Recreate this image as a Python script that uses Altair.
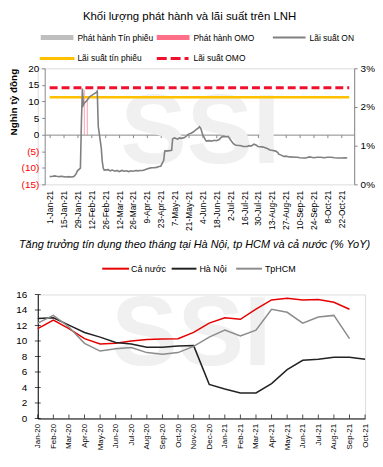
import altair as alt
import pandas as pd
from datetime import datetime

FONT = "Liberation Sans"

# ---------------- top chart data ----------------
top_title = "Khối lượng phát hành và lãi suất trên LNH"
top_legend = ["Phát hành Tín phiếu", "Phát hành OMO", "Lãi suất ON",
              "Lãi suất tín phiếu", "Lãi suất OMO"]
y_left_title = "Nghìn tỷ đồng"
top_ticks = ["1-Jan-21", "15-Jan-21", "29-Jan-21", "12-Feb-21", "26-Feb-21",
             "12-Mar-21", "26-Mar-21", "9-Apr-21", "23-Apr-21", "7-May-21",
             "21-May-21", "4-Jun-21", "18-Jun-21", "2-Jul-21", "16-Jul-21",
             "30-Jul-21", "13-Aug-21", "27-Aug-21", "10-Sep-21", "24-Sep-21",
             "8-Oct-21", "22-Oct-21"]
left_ticks = [-15, -10, -5, 0, 5, 10, 15, 20]
right_ticks = [0, 1, 2, 3]
period = ["2021-01-01", "2021-10-30"]

on_dates = ["2021-01-01", "2021-01-04", "2021-01-06", "2021-01-08", "2021-01-11",
            "2021-01-13", "2021-01-15", "2021-01-18", "2021-01-20", "2021-01-22",
            "2021-01-25", "2021-01-26", "2021-01-27", "2021-01-28", "2021-01-29",
            "2021-02-01", "2021-02-02", "2021-02-03", "2021-02-04", "2021-02-05",
            "2021-02-08", "2021-02-09", "2021-02-10", "2021-02-17", "2021-02-18",
            "2021-02-19", "2021-02-22", "2021-02-23", "2021-02-24", "2021-02-25",
            "2021-03-01", "2021-03-03", "2021-03-05", "2021-03-08", "2021-03-10",
            "2021-03-12", "2021-03-15", "2021-03-17", "2021-03-19", "2021-03-22",
            "2021-03-24", "2021-03-26", "2021-03-29", "2021-03-31", "2021-04-02",
            "2021-04-05", "2021-04-07", "2021-04-09", "2021-04-12", "2021-04-14",
            "2021-04-16", "2021-04-19", "2021-04-21", "2021-04-23", "2021-04-26",
            "2021-04-27", "2021-04-28", "2021-04-29", "2021-05-04", "2021-05-05",
            "2021-05-07", "2021-05-10", "2021-05-12", "2021-05-14", "2021-05-17",
            "2021-05-19", "2021-05-21", "2021-05-24", "2021-05-26", "2021-05-28",
            "2021-05-31", "2021-06-01", "2021-06-02", "2021-06-03", "2021-06-04",
            "2021-06-07", "2021-06-08", "2021-06-10", "2021-06-14", "2021-06-16",
            "2021-06-18", "2021-06-21", "2021-06-23", "2021-06-25", "2021-06-28",
            "2021-06-30", "2021-07-01", "2021-07-05", "2021-07-07", "2021-07-09",
            "2021-07-13", "2021-07-15", "2021-07-19", "2021-07-21", "2021-07-23",
            "2021-07-26", "2021-07-28", "2021-07-30", "2021-08-03", "2021-08-05",
            "2021-08-09", "2021-08-11", "2021-08-13", "2021-08-17", "2021-08-19",
            "2021-08-20", "2021-08-23", "2021-08-25", "2021-08-27", "2021-08-31",
            "2021-09-06", "2021-09-08", "2021-09-10", "2021-09-14", "2021-09-16",
            "2021-09-20", "2021-09-22", "2021-09-24", "2021-09-28", "2021-10-01",
            "2021-10-05", "2021-10-08", "2021-10-12", "2021-10-15", "2021-10-19",
            "2021-10-22", "2021-10-26", "2021-10-28"]
on_values = [0.20, 0.21, 0.22, 0.21, 0.20,
             0.21, 0.20, 0.19, 0.20, 0.19,
             0.20, 0.22, 0.25, 0.29, 0.35,
             0.42, 1.60, 2.48, 2.05, 2.10,
             2.18, 2.22, 2.26, 2.38, 2.41,
             1.50, 0.95, 0.60, 0.42, 0.37,
             0.38, 0.35, 0.37, 0.34, 0.36,
             0.33, 0.36, 0.34, 0.35, 0.33,
             0.35, 0.34, 0.36, 0.35, 0.36,
             0.36, 0.38, 0.40, 0.42, 0.43,
             0.43, 0.44, 0.46, 0.47, 0.62,
             0.86, 0.87, 0.86, 0.88, 1.18,
             1.20, 1.17, 1.20, 1.19, 1.21,
             1.25, 1.30, 1.33, 1.36, 1.40,
             1.46, 1.49, 1.46, 1.40, 1.30,
             1.15, 1.12, 1.13, 1.12, 1.14,
             1.13, 1.16, 1.22, 1.24, 1.23,
             1.24, 1.20, 1.06, 1.02, 1.01,
             1.00, 0.98, 0.98, 1.00, 0.99,
             1.04, 1.02, 0.98, 0.97, 0.96,
             0.92, 0.89, 0.88, 0.86, 0.82,
             0.78, 0.75, 0.72, 0.73, 0.71,
             0.70, 0.70, 0.69, 0.68, 0.68,
             0.71, 0.70, 0.69, 0.70, 0.70,
             0.69, 0.70, 0.70, 0.69, 0.68,
             0.68, 0.69, 0.68]
omo_dates = ["2021-02-05", "2021-02-08"]
omo_values = [13.5, 11.0]
tinphieu_dates = []
tinphieu_values = []
rate_tinphieu = 2.25
rate_omo = 2.5

# ---------------- bottom chart data ----------------
bottom_title = "Tăng trưởng tín dụng theo tháng tại Hà Nội, tp HCM và cả nước (% YoY)"
months = ["Jan-20", "Feb-20", "Mar-20", "Apr-20", "May-20", "Jun-20", "Jul-20",
          "Aug-20", "Sep-20", "Oct-20", "Nov-20", "Dec-20", "Jan-21", "Feb-21",
          "Mar-21", "Apr-21", "May-21", "Jun-21", "Jul-21", "Aug-21", "Sep-21",
          "Oct-21"]
series_names = ["Cả nước", "Hà Nội", "TpHCM"]
ca_nuoc = [11.6, 12.7, 11.6, 10.3, 9.6, 9.7, 10.0, 10.2, 10.25, 10.3, 11.1,
           12.3, 13.0, 12.8, 14.1, 15.3, 15.5, 15.3, 15.35, 15.0, 14.1, None]
ha_noi = [12.9, 13.0, 12.05, 11.1, 10.5, 9.8, 9.6, 9.2, 9.2, 9.35, 9.4,
          4.4, 3.8, 3.3, 3.3, 4.5, 6.3, 7.5, 7.65, 7.9, 7.9, 7.65]
tphcm = [12.3, 13.3, 11.8, 9.7, 8.7, 9.0, 9.15, 8.5, 8.3, 8.5, 9.3,
         10.5, 11.4, 10.65, 11.4, 14.1, 13.7, 12.3, 13.1, 13.3, 10.3, None]
bottom_y_ticks = [0, 2, 4, 6, 8, 10, 12, 14, 16]
watermark = "SSI"

# ---------------- styles ----------------
C_GRAY_BAR = "#bfbfbf"
C_OMO_BAR = "#ff7088"
C_ON = "#808080"
C_TP = "#ffc000"
C_OMO = "#f0102e"
C_SERIES = ["#e60000", "#222222", "#8c8c8c"]
C_WM = "#f0f0f0"


def dt(s, fmt="%Y-%m-%d"):
    d = datetime.strptime(s, fmt)
    return alt.DateTime(year=d.year, month=d.month, date=d.day)


def one(**kw):
    return alt.Data(values=[kw])


def leg_rule(x1, x2, y, color, width, dash=None):
    kw = dict(color=color, strokeWidth=width, strokeCap="butt")
    if dash:
        kw["strokeDash"] = dash
    return alt.Chart(one(k=0)).mark_rule(**kw).encode(
        x=alt.value(x1), x2=alt.value(x2), y=alt.value(y))


def txt(x, y, t, size, align="left", italic=False, bold=False, color="#000"):
    kw = dict(align=align, baseline="alphabetic", fontSize=size, font=FONT,
              color=color)
    if italic:
        kw["fontStyle"] = "italic"
    if bold:
        kw["fontWeight"] = "bold"
    return alt.Chart(one(t=t)).mark_text(**kw).encode(
        x=alt.value(x), y=alt.value(y), text="t:N")


def wm(x, y):
    return alt.Chart(one(t=watermark)).mark_text(
        fontSize=100, fontWeight="bold", font=FONT, color=C_WM,
        baseline="middle", align="center").encode(
        x=alt.value(x), y=alt.value(y), text="t:N")


# ---------------- top chart ----------------
W1, H1 = 319, 117
LEFT_SHIFT = 7
zero_from_bottom = H1 * 15 / 35.0

xscale = alt.Scale(domain=[dt(period[0]), dt(period[1])], range=[LEFT_SHIFT, W1])
xaxis = alt.Axis(title=None, values=[dt(t, "%d-%b-%y") for t in top_ticks],
                 format="%-d-%b-%y", labelAngle=-90, labelPadding=53,
                 offset=-zero_from_bottom, tickSize=3, tickColor="#888",
                 domainColor="#888", labelFontSize=8.5, labelOverlap=False,
                 labelFlush=False, grid=False, labelFont=FONT)
ylscale = alt.Scale(domain=[-15, 20], nice=False, zero=False)
ylaxis = alt.Axis(title=y_left_title, values=left_ticks,
                  labelExpr="datum.value < 0 ? '(' + abs(datum.value) + ')' : datum.label",
                  labelColor=alt.condition("datum.value < 0", alt.value("#ff0000"), alt.value("#000000")),
                  offset=-LEFT_SHIFT, tickSize=3, tickColor="#888", domainColor="#888",
                  grid=False, titleFontWeight="bold", titleFontSize=10, titleAnchor="end",
                  titlePadding=4, minExtent=22, maxExtent=22, labelFontSize=10,
                  labelPadding=3, labelFlush=False, labelFont=FONT, titleFont=FONT)
yrscale = alt.Scale(domain=[0, 3], nice=False, zero=False)
yraxis = alt.Axis(title=None, orient="right", values=right_ticks,
                  labelExpr="datum.value + '%'", tickSize=3, tickColor="#888",
                  domainColor="#888", grid=False, labelFontSize=10, labelPadding=3,
                  labelFlush=False, labelFont=FONT)

on_df = pd.DataFrame({"date": pd.to_datetime(on_dates), "v": on_values})
omo_df = pd.DataFrame({"date": pd.to_datetime(omo_dates), "v": omo_values})
rate_df = pd.DataFrame({"x0": pd.to_datetime([period[0]] * 2),
                        "x1": pd.to_datetime([period[1]] * 2),
                        "r": [rate_tinphieu, rate_omo],
                        "k": ["tp", "omo"]})

bars = alt.Chart(omo_df).mark_bar(size=1.2, color=C_OMO_BAR, opacity=0.55).encode(
    x=alt.X("date:T", scale=xscale, axis=xaxis),
    y=alt.Y("v:Q", scale=ylscale, axis=ylaxis),
    y2=alt.datum(0))

left_layers = [wm(200 - 36, 135 - 70), bars]
if tinphieu_dates:
    tp_df = pd.DataFrame({"date": pd.to_datetime(tinphieu_dates), "v": tinphieu_values})
    left_layers.append(alt.Chart(tp_df).mark_bar(size=1.2, color=C_GRAY_BAR).encode(
        x=alt.X("date:T", scale=xscale, axis=xaxis),
        y=alt.Y("v:Q", scale=ylscale, axis=ylaxis), y2=alt.datum(0)))

# legend (top)
r1, r2 = -31, -10
LF = 8.5
left_layers += [
    txt(153, -49, top_title, 11.5, align="center"),
    leg_rule(3, 36, r1, C_GRAY_BAR, 5), txt(40, r1 + 3, top_legend[0], LF),
    leg_rule(120, 153, r1, C_OMO_BAR, 5), txt(157, r1 + 3, top_legend[1], LF),
    leg_rule(237, 270, r1, C_ON, 2), txt(274, r1 + 3, top_legend[2], LF),
    leg_rule(2, 37, r2, C_TP, 3), txt(40, r2 + 3, top_legend[3], LF),
    leg_rule(120, 152, r2, C_OMO, 3, [10, 4]), txt(157, r2 + 3, top_legend[4], LF),
]
left = alt.layer(*left_layers)

tp_rule = alt.Chart(rate_df).transform_filter("datum.k == 'tp'").mark_rule(
    color=C_TP, strokeWidth=2.5).encode(
    x=alt.X("x0:T", scale=xscale, axis=xaxis), x2="x1:T",
    y=alt.Y("r:Q", scale=yrscale, axis=yraxis))
omo_rule = alt.Chart(rate_df).transform_filter("datum.k == 'omo'").mark_rule(
    color=C_OMO, strokeWidth=3, strokeDash=[8, 4]).encode(
    x=alt.X("x0:T", scale=xscale, axis=xaxis), x2="x1:T",
    y=alt.Y("r:Q", scale=yrscale, axis=yraxis))
on_line = alt.Chart(on_df).mark_line(color=C_ON, strokeWidth=1.6).encode(
    x=alt.X("date:T", scale=xscale, axis=xaxis),
    y=alt.Y("v:Q", scale=yrscale, axis=yraxis))
right = alt.layer(tp_rule, omo_rule, on_line)

top = alt.layer(left, right).resolve_scale(y="independent").properties(
    width=W1, height=H1)

# ---------------- bottom chart ----------------
W2, H2 = 330, 125
rows = []
for name, vals in zip(series_names, [ca_nuoc, ha_noi, tphcm]):
    for m, v in zip(months, vals):
        if v is not None:
            rows.append({"m": m, "s": name, "v": v})
bdf = pd.DataFrame(rows)

bx_scale = alt.Scale(type="point", padding=0)
bx_axis = alt.Axis(title=None, labelAngle=-90, labelPadding=5, ticks=False,
                   domainColor="#000", labelFontSize=8, labelOverlap=False,
                   labelFont=FONT, grid=False)
by_scale = alt.Scale(domain=[0, 16], nice=False)
by_axis = alt.Axis(title=None, values=bottom_y_ticks, ticks=False, domainColor="#000",
                   labelPadding=11, labelFontSize=10, grid=False, labelFont=FONT,
                   labelFlush=False)

blines = alt.Chart(bdf).mark_line(strokeWidth=1.5).encode(
    x=alt.X("m:N", sort=months, scale=bx_scale, axis=bx_axis),
    y=alt.Y("v:Q", scale=by_scale, axis=by_axis),
    color=alt.Color("s:N", scale=alt.Scale(domain=series_names, range=C_SERIES),
                    legend=None),
    detail="s:N")

xt_df = pd.DataFrame({"m": months, "z": [0] * len(months)})
xticks = alt.Chart(xt_df).mark_tick(orient="vertical", size=4, color="#000",
                                     yOffset=-2, thickness=1).encode(
    x=alt.X("m:N", sort=months, scale=bx_scale, axis=bx_axis),
    y=alt.Y("z:Q", scale=by_scale, axis=by_axis))
yt_df = pd.DataFrame({"t": bottom_y_ticks})
yticks = alt.Chart(yt_df).mark_tick(orient="horizontal", size=6, color="#000",
                                     thickness=1).encode(
    x=alt.value(0), y=alt.Y("t:Q", scale=by_scale, axis=by_axis))

lb = -26
BLF = 9
bottom = alt.layer(
    wm(191 - 36, 335 - 294),
    blines, xticks, yticks,
    txt(158, -47, bottom_title, 11, align="center", italic=True),
    leg_rule(65, 92, lb, C_SERIES[0], 2), txt(94, lb + 3, series_names[0], BLF),
    leg_rule(135, 160, lb, C_SERIES[1], 2), txt(163, lb + 3, series_names[1], BLF),
    leg_rule(200, 226, lb, C_SERIES[2], 2), txt(229, lb + 3, series_names[2], BLF),
).properties(width=W2, height=H2)

chart = alt.vconcat(top, bottom, spacing=7).properties(
    padding={"left": 0, "top": 0, "right": 0, "bottom": 0}
).configure_view(stroke=None).configure(font=FONT)

chart.save("out.html", embed_options={"renderer": "svg", "actions": False})
